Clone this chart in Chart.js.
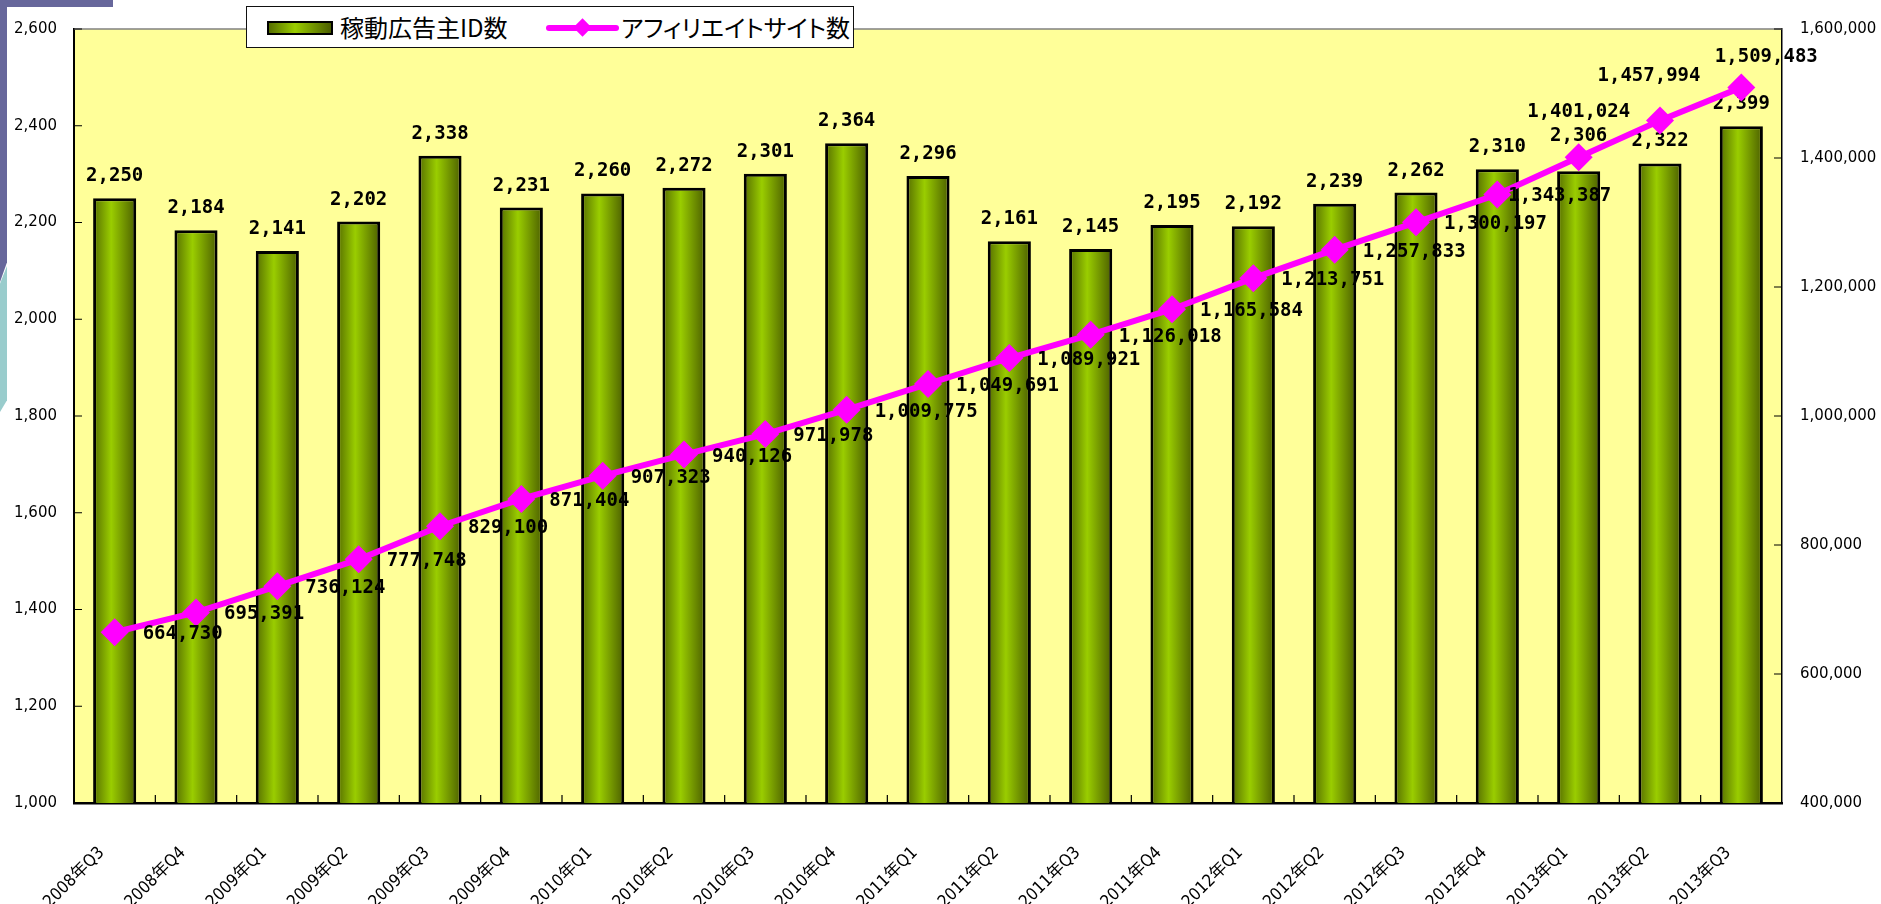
<!DOCTYPE html>
<html>
<head>
<meta charset="utf-8">
<script src="https://cdn.jsdelivr.net/npm/chart.js@4.4.1/dist/chart.umd.min.js"></script>
<style>
  html, body { margin: 0; padding: 0; background: #fff; }
  #wrap { position: relative; width: 1881px; height: 904px; overflow: hidden; }
  #deco-top { position: absolute; left: 0; top: 0; width: 113px; height: 7px; background: #67679b; }
  #deco-purple { position: absolute; left: 0; top: 0; width: 7px; height: 282px; background: #67679b;
    clip-path: polygon(0 0, 100% 0, 100% 93%, 0 100%); }
  #deco-teal { position: absolute; left: 0; top: 266px; width: 7px; height: 146px; background: #99cccc;
    clip-path: polygon(0 12%, 100% 0, 100% 92%, 0 100%); }
  #legend { position: absolute; left: 246px; top: 6px; width: 608px; height: 42px; box-sizing: border-box;
    border: 1px solid #111; background: #fff; z-index: 2;
    font-family: "Noto Sans CJK JP", sans-serif; font-size: 24px; font-feature-settings: "palt"; color: #000; }
  #legend .sw-bar { position: absolute; left: 20px; top: 14px; width: 66px; height: 14px; box-sizing: border-box;
    border: 2px solid #000; background: linear-gradient(to right, #566e00, #9acd00 42%, #4b5e00); }
  #legend .sw-line { position: absolute; left: 299px; top: 18px; width: 73px; height: 6px; border-radius: 3px; background: #ff00ff; }
  #legend .sw-dot { position: absolute; left: 329px; top: 14px; width: 13px; height: 13px; background: #ff00ff; transform: rotate(45deg); }
  #legend .t1 { position: absolute; left: 93px; top: 2px; line-height: 36px; }
  #legend .t2 { position: absolute; left: 374px; top: 2px; line-height: 36px; }
  canvas { position: absolute; left: 0; top: 0; }
</style>
</head>
<body>
<div id="wrap">
  <canvas id="myChart" width="1881" height="904"></canvas>
  <div id="deco-top"></div>
  <div id="deco-purple"></div>
  <div id="deco-teal"></div>
  <div id="legend">
    <span class="sw-bar"></span><span class="t1">稼動広告主ID数</span>
    <span class="sw-line"></span><span class="sw-dot"></span><span class="t2">アフィリエイトサイト数</span>
  </div>
</div>
<script>
const quarters = ['2008年Q3', '2008年Q4', '2009年Q1', '2009年Q2', '2009年Q3', '2009年Q4',
  '2010年Q1', '2010年Q2', '2010年Q3', '2010年Q4', '2011年Q1', '2011年Q2', '2011年Q3', '2011年Q4',
  '2012年Q1', '2012年Q2', '2012年Q3', '2012年Q4', '2013年Q1', '2013年Q2', '2013年Q3'];
const advertisers = [2250, 2184, 2141, 2202, 2338, 2231, 2260, 2272, 2301, 2364, 2296,
  2161, 2145, 2195, 2192, 2239, 2262, 2310, 2306, 2322, 2399];
const affiliateSites = [664730, 695391, 736124, 777748, 829100, 871404, 907323, 940126, 971978,
  1009775, 1049691, 1089921, 1126018, 1165584, 1213751, 1257833, 1300197, 1343387,
  1401024, 1457994, 1509483];
const leftAxis = [1000, 2600, 200];
const rightAxis = [400000, 1600000, 200000];

const barPct = 0.53;
const fmt = v => v.toLocaleString('en-US');

// green "cylinder" fill, built per bar from the x scale
function barFill(c) {
  const chart = c.chart;
  const xs = chart.scales.x;
  if (!xs || !chart.chartArea) return '#8fb300';
  const cx = xs.getPixelForValue(c.dataIndex);
  const w = xs.width / quarters.length * barPct;
  const g = chart.ctx.createLinearGradient(cx - w / 2, 0, cx + w / 2, 0);
  g.addColorStop(0, '#566e00');
  g.addColorStop(0.42, '#9acd00');
  g.addColorStop(1, '#4b5e00');
  return g;
}

const plotFrame = {
  id: 'plotFrame',
  beforeDraw(chart) {
    const { ctx, chartArea: a } = chart;
    ctx.save();
    ctx.fillStyle = '#ffff99';
    ctx.fillRect(a.left, a.top, a.right - a.left, a.bottom - a.top);
    ctx.restore();
  },
  afterDraw(chart) {
    const { ctx, chartArea: a, scales } = chart;
    ctx.save();
    ctx.strokeStyle = '#808080';
    ctx.lineWidth = 1.5;
    ctx.beginPath();
    ctx.moveTo(a.left, a.top);
    ctx.lineTo(a.right, a.top);
    ctx.stroke();
    // inward tick marks
    ctx.strokeStyle = '#000';
    ctx.lineWidth = 1.2;
    ctx.beginPath();
    scales.y.ticks.forEach(t => {
      const y = scales.y.getPixelForValue(t.value);
      ctx.moveTo(a.left, y); ctx.lineTo(a.left + 8, y);
    });
    scales.y1.ticks.forEach(t => {
      const y = scales.y1.getPixelForValue(t.value);
      ctx.moveTo(a.right, y); ctx.lineTo(a.right - 8, y);
    });
    for (let i = 1; i < quarters.length; i++) {
      const x = (scales.x.getPixelForValue(i - 1) + scales.x.getPixelForValue(i)) / 2;
      ctx.moveTo(x, a.bottom); ctx.lineTo(x, a.bottom - 8);
    }
    ctx.stroke();
    ctx.restore();
  }
};

const labelFont = 'bold 19px "DejaVu Sans Mono"';

const valueLabels = {
  id: 'valueLabels',
  afterDatasetDraw(chart, args) {
    if (args.index !== 0) return;
    const ctx = chart.ctx;
    ctx.save();
    ctx.font = labelFont;
    ctx.fillStyle = '#000';
    ctx.textAlign = 'center';
    ctx.textBaseline = 'alphabetic';
    args.meta.data.forEach((bar, i) => {
      const lift = i === 18 ? 30 : 17;
      ctx.fillText(fmt(advertisers[i]), bar.x, bar.y - lift);
    });
    ctx.restore();
  },
  afterDatasetsDraw(chart) {
    const ctx = chart.ctx;
    const meta = chart.getDatasetMeta(1);
    ctx.save();
    ctx.font = labelFont;
    ctx.fillStyle = '#000';
    ctx.textBaseline = 'middle';
    meta.data.forEach((pt, i) => {
      const txt = fmt(affiliateSites[i]);
      if (i >= 18) {
        ctx.textAlign = 'center';
        const dx = i === 19 ? -11 : i === 20 ? 25 : 0;
        const dy = i === 20 ? -30 : -45;
        ctx.fillText(txt, pt.x + dx, pt.y + dy);
      } else {
        ctx.textAlign = 'left';
        ctx.fillText(txt, pt.x + (i === 17 ? 11 : 28), pt.y + 2);
      }
    });
    ctx.restore();
  }
};

const tickFont = { family: '"DejaVu Sans"', size: 15 };

new Chart(document.getElementById('myChart'), {
  type: 'bar',
  data: {
    labels: quarters,
    datasets: [
      {
        label: '稼動広告主ID数',
        data: advertisers,
        yAxisID: 'y',
        order: 1,
        backgroundColor: barFill,
        borderColor: '#000',
        borderWidth: 3,
        borderSkipped: false,
        barPercentage: barPct,
        categoryPercentage: 1
      },
      {
        type: 'line',
        label: 'アフィリエイトサイト数',
        data: affiliateSites,
        yAxisID: 'y1',
        order: 0,
        borderColor: '#ff00ff',
        borderWidth: 6,
        backgroundColor: '#ff00ff',
        pointStyle: 'rectRot',
        pointRadius: 14,
        pointBorderWidth: 0,
        pointBackgroundColor: '#ff00ff',
        tension: 0,
        clip: false
      }
    ]
  },
  options: {
    responsive: false,
    animation: false,
    layout: { padding: { top: 29, left: 0, right: 0, bottom: 0 } },
    plugins: { legend: { display: false }, tooltip: { enabled: false } },
    scales: {
      x: {
        grid: { display: false, drawTicks: false },
        border: { color: '#000', width: 2.5 },
        ticks: {
          autoSkip: false, maxRotation: 45, minRotation: 45,
          padding: 40, labelOffset: -13, color: '#000',
          font: { family: '"Liberation Sans Narrow", "DejaVu Sans Condensed", "Noto Sans CJK JP"', size: 17 }
        },
        afterFit: s => { s.height = 101; s.paddingLeft = 0; s.paddingRight = 0; }
      },
      y: {
        position: 'left',
        min: leftAxis[0], max: leftAxis[1],
        grid: { display: false, drawTicks: false },
        border: { color: '#000', width: 2 },
        ticks: { stepSize: leftAxis[2], padding: 17, color: '#000', font: tickFont },
        afterFit: s => { s.width = 74; }
      },
      y1: {
        position: 'right',
        min: rightAxis[0], max: rightAxis[1],
        grid: { display: false, drawTicks: false },
        border: { color: '#000', width: 1.5 },
        ticks: { stepSize: rightAxis[2], padding: 18, color: '#000', font: tickFont },
        afterFit: s => { s.width = 99; }
      }
    }
  },
  plugins: [plotFrame, valueLabels]
});
</script>
</body>
</html>
